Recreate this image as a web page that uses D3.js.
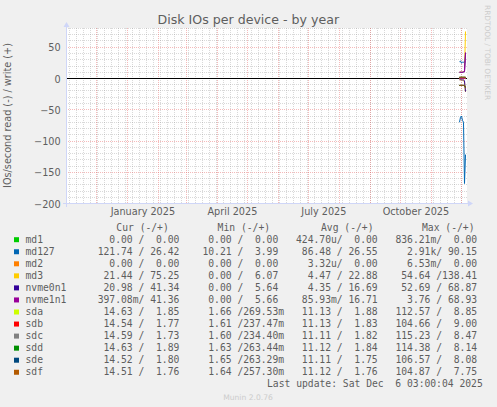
<!DOCTYPE html>
<html><head><meta charset="utf-8">
<script src="https://cdn.jsdelivr.net/npm/d3@7/dist/d3.min.js"></script>
<style>
body{margin:0;background:#f0f0f0}
text{white-space:pre}
</style>
</head><body>
<svg id="c" width="497" height="407"></svg>
<script>
// ---------------- data ----------------
const chartTitle = "Disk IOs per device - by year";
const yAxisLabel = "IOs/second read (-) / write (+)";
const devices = ["md1","md127","md2","md3","nvme0n1","nvme1n1","sda","sdb","sdc","sdd","sde","sdf"];
const deviceColors = ["#00CC00","#0066B3","#FF8000","#FFCC00","#330099","#990099","#CCFF00","#FF0000","#808080","#008F00","#00487D","#B35A00"];
const sampleDays = ["2025-11-29","2025-11-30","2025-12-01","2025-12-02","2025-12-03","2025-12-04","2025-12-05"];
// read (plotted below zero) and write (above zero), one row per device
const readValues = [
  [0,0,0,0,0,0,0],
  [70,62,60,67,70,168,121.74],
  [0,0,0,0,0,0,0],
  [2,2,2.5,2,3,6,21.44],
  [2,2,2,2.5,2,4,20.98],
  [0.05,0.05,0.05,0.05,0.05,0.1,0.4],
  [11.0,11.2,11.1,11.0,11.2,11.6,14.63],
  [11.1,11.1,11.0,11.2,11.1,11.5,14.54],
  [11.0,11.1,11.1,11.0,11.1,11.6,14.59],
  [11.1,11.0,11.2,11.1,11.0,11.7,14.63],
  [11.0,11.1,11.0,11.1,11.0,11.5,14.52],
  [11.1,11.0,11.1,11.0,11.1,11.6,14.51]
];
const writeValues = [
  [0,0,0,0,0,0,0],
  [27,28,24.5,26,26,27,26.42],
  [0,0,0,0,0,0,0],
  [10,10.5,10,10.5,11,12,75.25],
  [10,10,10,10,10.5,11,41.34],
  [10,10,10,10,10.5,11,41.36],
  [1.9,1.8,1.9,1.85,1.9,1.9,1.85],
  [1.8,1.8,1.85,1.8,1.8,1.85,1.77],
  [1.8,1.85,1.8,1.8,1.85,1.8,1.73],
  [1.85,1.8,1.9,1.85,1.8,1.9,1.89],
  [1.8,1.8,1.75,1.8,1.8,1.8,1.80],
  [1.8,1.75,1.8,1.8,1.75,1.8,1.76]
];
// legend statistics
const curRead  = [0,121.74,0,21.44,20.98,0.39708,14.63,14.54,14.59,14.63,14.52,14.51];
const curWrite = [0,26.42,0,75.25,41.34,41.36,1.85,1.77,1.73,1.89,1.80,1.76];
const minRead  = [0,10.21,0,0,0,0,1.66,1.61,1.60,1.63,1.65,1.64];
const minWrite = [0,3.99,0,6.07,5.64,5.66,0.26953,0.23747,0.23440,0.26344,0.26329,0.25730];
const avgRead  = [424.70e-6,86.48,3.32e-6,4.47,4.35,0.08593,11.13,11.13,11.11,11.12,11.11,11.12];
const avgWrite = [0,26.55,0,22.88,16.69,16.71,1.88,1.83,1.82,1.84,1.75,1.76];
const maxRead  = [0.83621,2910,0.00653,54.64,52.69,3.76,112.57,104.66,115.23,114.38,106.57,104.87];
const maxWrite = [0,90.15,0,138.41,68.87,68.93,8.85,9.00,8.47,8.14,8.08,7.75];
const legendHeaders = ["Cur (-/+)","Min (-/+)","Avg (-/+)","Max (-/+)"];
const yTickValues = [-200,-150,-100,-50,0,50];
const lastUpdate = "Last update: Sat Dec  6 03:00:04 2025";
const footer = "Munin 2.0.76";
const watermark = "RRDTOOL / TOBI OETIKER";

// ---------------- layout ----------------
const L = 66, R = 466, T = 28, B = 203;
const fontColor = "#5e5e5e";
const sans = "DejaVu Sans, sans-serif";
const mono = "DejaVu Sans Mono, monospace";
const minorGrid = "rgba(143,143,143,0.34)";
const majorGrid = "rgba(230,90,90,0.42)";

const svg = d3.select("#c");
svg.append("rect").attr("width",497).attr("height",407).attr("fill","#f0f0f0");

const tStart = new Date(Date.UTC(2024,10,1,3));
const tEnd = new Date(Date.UTC(2025,11,6,3));
const x = d3.scaleUtc().domain([tStart,tEnd]).range([L,R]);
const y = d3.scaleLinear().domain([-200,80]).range([B,T]);
const cx = v => Math.round(x(v)) + 0.5;
const cy = v => Math.round(y(v)) + 0.5;

// canvas
svg.append("rect").attr("x",L).attr("y",T).attr("width",R-L+1).attr("height",B-T+1).attr("fill","#fff");

const grid = svg.append("g").attr("fill","none").attr("stroke-dasharray","1,1");
// minor horizontal
d3.range(-200,81,10).filter(v=>v%50!==0).forEach(v=>{
  grid.append("line").attr("x1",L).attr("x2",R+1).attr("y1",cy(v)).attr("y2",cy(v)).attr("stroke",minorGrid);
});
// minor vertical (weekly)
d3.utcMonday.range(tStart,tEnd).forEach(d=>{
  grid.append("line").attr("x1",cx(d)).attr("x2",cx(d)).attr("y1",T).attr("y2",B+1).attr("stroke",minorGrid);
});
// major horizontal
yTickValues.forEach(v=>{
  grid.append("line").attr("x1",L).attr("x2",R+1).attr("y1",cy(v)).attr("y2",cy(v)).attr("stroke",majorGrid);
});
// major vertical (monthly)
d3.utcMonth.range(tStart,tEnd).forEach(d=>{
  grid.append("line").attr("x1",cx(d)).attr("x2",cx(d)).attr("y1",T).attr("y2",B+1).attr("stroke",majorGrid);
});

// y axis labels
const yAxis = d3.axisLeft(y).tickValues(yTickValues).tickSize(0).tickPadding(0).tickFormat(d3.format("d"));
const yg = svg.append("g").attr("transform",`translate(${L-5.3},0.5)`).call(yAxis);
yg.select(".domain").remove();
yg.selectAll("text").attr("font-family",sans).attr("font-size","9.7px").attr("fill",fontColor).attr("dy","0.36em");

// x axis labels (centred mid-month)
const labelMonths = d3.utcMonth.every(3).range(tStart,tEnd);
const midMonth = labelMonths.map(m => new Date(+m + (d3.utcMonth.offset(m,1)-m)/2));
const xAxis = d3.axisBottom(x).tickValues(midMonth).tickSize(0).tickPadding(0)
  .tickFormat(d => d3.utcFormat("%B %Y")(d3.utcMonth.floor(d)));
const xg = svg.append("g").attr("transform",`translate(0,${B+5})`).call(xAxis);
xg.select(".domain").remove();
xg.selectAll("text").attr("font-family",sans).attr("font-size","9.7px").attr("fill",fontColor).attr("dy","0.71em");

// zero line
svg.append("line").attr("x1",L).attr("x2",R+1).attr("y1",cy(0)).attr("y2",cy(0)).attr("stroke","#000");

// data
svg.append("clipPath").attr("id","clip").append("rect").attr("x",L).attr("y",T).attr("width",R-L+1).attr("height",B-T+1);
const dates = sampleDays.map(s => new Date(s + "T03:00:00Z"));
const dataG = svg.append("g").attr("clip-path","url(#clip)").attr("transform","translate(0.5,0.5)");
const line = d3.line().x((d,i)=>x(dates[i])).y(d=>y(d));
devices.forEach((dev,k)=>{
  dataG.append("path").attr("d",line(readValues[k].map(v=>-v))).attr("fill","none").attr("stroke",deviceColors[k]).attr("stroke-width",1);
  dataG.append("path").attr("d",line(writeValues[k])).attr("fill","none").attr("stroke",deviceColors[k]).attr("stroke-width",1);
});

// axes + arrows
const axisColor = "#CFD6F8";
svg.append("line").attr("x1",L-3).attr("x2",R+4).attr("y1",B+0.5).attr("y2",B+0.5).attr("stroke",axisColor);
svg.append("line").attr("x1",L+0.5).attr("x2",L+0.5).attr("y1",B+4).attr("y2",T-2).attr("stroke",axisColor);
svg.append("path").attr("d",`M${R+2},${B-2.5}L${R+7},${B+0.5}L${R+2},${B+3.5}Z`).attr("fill",axisColor);
svg.append("path").attr("d",`M${L-2.5},${T-1}L${L+0.5},${T-6}L${L+3.5},${T-1}Z`).attr("fill",axisColor);

// title
svg.append("text").attr("x",248.3).attr("y",24).attr("text-anchor","middle")
  .attr("font-family",sans).attr("font-size","12.6px").attr("fill",fontColor).text(chartTitle);
// y label
svg.append("text").attr("transform",`translate(10.5,${(T+B)/2}) rotate(-90)`).attr("text-anchor","middle")
  .attr("font-family",sans).attr("font-size","9.7px").attr("fill",fontColor).text(yAxisLabel);
// watermark
svg.append("text").attr("transform","translate(485,5) rotate(90)")
  .attr("font-family",sans).attr("font-size","7.4px").attr("fill","#cccccc").text(watermark);

// legend
function si(v){
  if (v === 0) return "  0.00 ";
  let s = v, p = " ";
  const a = Math.abs(v);
  if (a >= 1000) { s = v/1000; p = "k"; }
  else if (a < 1e-3) { s = v*1e6; p = "u"; }
  else if (a < 1) { s = v*1000; p = "m"; }
  return s.toFixed(2).padStart(6," ") + p;
}
const nb = s => s.replace(/ /g,"\u00a0");
const headerX = [116.3,217.6,321.0,422.0];
headerX.forEach((hx,i)=>{
  svg.append("text").attr("x",hx).attr("y",231.3).attr("font-family",mono).attr("font-size","9.7px")
    .attr("fill",fontColor).text(nb(legendHeaders[i]));
});
const colX = [97.7,196.6,296.0,395.4];
const stats = [[curRead,curWrite],[minRead,minWrite],[avgRead,avgWrite],[maxRead,maxWrite]];
devices.forEach((dev,k)=>{
  const by = 242.8 + k*12.05;
  svg.append("rect").attr("x",14).attr("y",by-5.6).attr("width",5).attr("height",5).attr("fill",deviceColors[k]);
  svg.append("text").attr("x",25.5).attr("y",by).attr("font-family",mono).attr("font-size","9.7px")
    .attr("fill",fontColor).text(dev);
  stats.forEach((st,j)=>{
    svg.append("text").attr("x",colX[j]).attr("y",by).attr("font-family",mono).attr("font-size","9.7px")
      .attr("fill",fontColor).text(nb(si(st[0][k]) + "/" + si(st[1][k])));
  });
});
svg.append("text").attr("x",482.8).attr("y",387).attr("text-anchor","end").attr("font-family",mono)
  .attr("font-size","9.7px").attr("fill",fontColor).text(nb(lastUpdate));
svg.append("text").attr("x",248).attr("y",399.5).attr("text-anchor","middle").attr("font-family",sans)
  .attr("font-size","7.6px").attr("fill","#cccccc").text(footer);
</script>
</body></html>
